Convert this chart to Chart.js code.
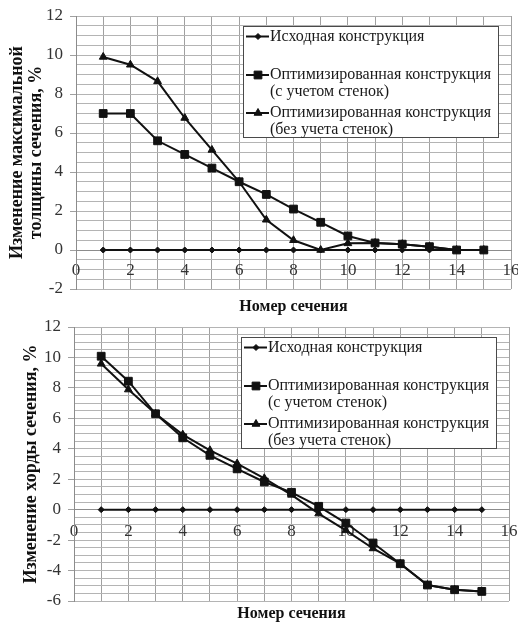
<!DOCTYPE html>
<html>
<head>
<meta charset="utf-8">
<script src="https://cdn.jsdelivr.net/npm/chart.js@4.4.1/dist/chart.umd.min.js"></script>
<style>
  body { margin: 0; background: #fff; }
  #wrap { position: relative; width: 518px; height: 626px; }
  #thickChart { position: absolute; left: 0; top: 0; }
  #chordChart { position: absolute; left: 0; top: 310px; }
</style>
</head>
<body>
<div id="wrap">
  <canvas id="thickChart" width="518" height="320"></canvas>
  <canvas id="chordChart" width="518" height="316"></canvas>
</div>
<script>
// номера сечений
const sections = [1, 2, 3, 4, 5, 6, 7, 8, 9, 10, 11, 12, 13, 14, 15];

// изменение максимальной толщины, %
const thickBase    = [0, 0, 0, 0, 0, 0, 0, 0, 0, 0, 0, 0, 0, 0, 0];
const thickWalls   = [7.0, 7.0, 5.6, 4.9, 4.2, 3.5, 2.85, 2.1, 1.42, 0.72, 0.36, 0.3, 0.17, 0, 0];
const thickNoWalls = [9.9, 9.5, 8.65, 6.77, 5.13, 3.5, 1.55, 0.5, 0.0, 0.34, 0.36, 0.3, 0.17, 0, 0];

// изменение хорды, %
const chordBase    = [0, 0, 0, 0, 0, 0, 0, 0, 0, 0, 0, 0, 0, 0, 0];
const chordWalls   = [10.08, 8.44, 6.3, 4.72, 3.57, 2.68, 1.82, 1.14, 0.22, -0.88, -2.19, -3.55, -4.95, -5.26, -5.37];
const chordNoWalls = [9.58, 7.89, 6.3, 4.93, 3.9, 3.03, 2.06, 0.97, -0.26, -1.36, -2.55, -3.55, -4.95, -5.26, -5.37];

const seriesNames = ['Исходная конструкция', 'Оптимизированная конструкция (с учетом стенок)', 'Оптимизированная конструкция (без учета стенок)'];
const legendLines = [
  ['Исходная конструкция'],
  ['Оптимизированная конструкция', '(с учетом стенок)'],
  ['Оптимизированная конструкция', '(без учета стенок)']
];
const xTitle = 'Номер сечения';

const FONT = '"Liberation Serif", "Times New Roman", serif';
const markers = [
  { pointStyle: 'rectRot', radius: 3 },
  { pointStyle: 'rect', radius: 5.5 },
  { pointStyle: 'triangle', radius: 4.5 }
];

function toPoints(values) {
  return values.map((v, i) => ({ x: sections[i], y: v }));
}

// легенда в рамке, как в Excel
const boxLegend = {
  id: 'boxLegend',
  afterDraw(chart, args, opts) {
    const ctx = chart.ctx;
    const area = chart.chartArea;
    const left = Math.round(area.right - opts.right - opts.width);
    const top = Math.round(area.top + opts.top);
    ctx.save();
    ctx.fillStyle = '#fff';
    ctx.fillRect(left, top, opts.width, opts.height);
    ctx.strokeStyle = '#4a4a4a';
    ctx.lineWidth = 1;
    ctx.strokeRect(left + 0.5, top + 0.5, opts.width, opts.height);

    ctx.font = '16px ' + FONT;
    ctx.textBaseline = 'middle';
    legendLines.forEach((lines, i) => {
      const y = top + opts.rows[i];
      ctx.strokeStyle = '#111';
      ctx.fillStyle = '#111';
      ctx.lineWidth = 2;
      ctx.beginPath();
      ctx.moveTo(left + 3, y);
      ctx.lineTo(left + 26, y);
      ctx.stroke();
      ctx.lineWidth = 1;
      Chart.helpers.drawPoint(ctx, {
        pointStyle: markers[i].pointStyle,
        radius: markers[i].radius,
        rotation: 0,
        borderWidth: 1
      }, left + 15, y);
      ctx.fillStyle = '#1a1a1a';
      lines.forEach((t, k) => ctx.fillText(t, left + 27, y + k * 17));
    });
    ctx.restore();
  }
};

function makeChart(id, c) {
  const ctx = document.getElementById(id).getContext('2d');
  const values = [c.base, c.walls, c.noWalls];
  const datasets = values.map((vals, i) => ({
    label: seriesNames[i],
    data: toPoints(vals),
    xAxisID: 'x',
    yAxisID: 'y',
    borderColor: '#111',
    backgroundColor: '#111',
    borderWidth: 2,
    pointStyle: markers[i].pointStyle,
    pointRadius: markers[i].radius,
    pointBorderWidth: 1,
    tension: 0,
    order: [2, 0, 1][i]
  }));

  return new Chart(ctx, {
    type: 'line',
    data: { datasets: datasets },
    plugins: [boxLegend],
    options: {
      responsive: false,
      animation: false,
      devicePixelRatio: 1,
      events: [],
      layout: { padding: { left: 0, right: c.padRight, top: c.padTop, bottom: 0 } },
      plugins: {
        legend: { display: false },
        tooltip: { enabled: false },
        boxLegend: { width: 255, height: 111, right: 13, top: 9.5, rows: [10.5, 49, 87] }
      },
      scales: {
        x: {
          type: 'linear',
          min: 0,
          max: 16,
          position: { y: 0 },
          ticks: {
            stepSize: 1,
            autoSkip: false,
            maxRotation: 0,
            padding: c.xTickPad,
            color: '#333',
            font: { family: FONT, size: 17 },
            callback: v => (v % 2 === 0 ? v : '')
          },
          grid: { color: '#a0a0a0', drawTicks: false },
          border: { color: '#8c8c8c' },
          afterFit: s => { s.paddingLeft = 0; s.paddingRight = 0; }
        },
        x2: {
          type: 'linear',
          min: 0,
          max: 16,
          position: 'bottom',
          ticks: { display: false },
          grid: { display: false, drawTicks: false },
          border: { display: false },
          title: {
            display: true,
            text: xTitle,
            color: '#111',
            font: { family: FONT, size: 16, weight: 'bold' },
            padding: { top: 0, bottom: c.x2PadBottom }
          },
          afterFit: s => { s.height = c.x2Height; }
        },
        y: {
          type: 'linear',
          min: c.yMin,
          max: c.yMax,
          position: 'left',
          ticks: {
            stepSize: 0.5,
            autoSkip: false,
            padding: 7,
            color: '#333',
            font: { family: FONT, size: 17 },
            callback: v => (v % 2 === 0 ? v : '')
          },
          grid: {
            color: '#b4b4b4',
            tickLength: 6,
            tickColor: t => (t.tick && t.tick.value % 2 === 0 ? '#a0a0a0' : 'rgba(0,0,0,0)')
          },
          border: { color: '#8c8c8c' },
          title: {
            display: true,
            text: c.yTitle,
            color: '#111',
            font: { family: FONT, size: 18, weight: 'bold', lineHeight: 1.08 },
            padding: { top: c.yTitlePad, bottom: 0 }
          },
          afterFit: s => { s.width = c.axisWidth; s.paddingTop = 0; s.paddingBottom = 0; }
        }
      }
    }
  });
}

makeChart('thickChart', {
  base: thickBase, walls: thickWalls, noWalls: thickNoWalls,
  yMin: -2, yMax: 12,
  yTitle: ['Изменение максимальной', 'толщины сечения, %'],
  yTitlePad: 7.5,
  axisWidth: 76, padRight: 7, padTop: 16,
  x2Height: 31, x2PadBottom: 3.4, xTickPad: 10
});

makeChart('chordChart', {
  base: chordBase, walls: chordWalls, noWalls: chordNoWalls,
  yMin: -6, yMax: 12,
  yTitle: 'Изменение хорды сечения, %',
  yTitlePad: 21.5,
  axisWidth: 74, padRight: 9, padTop: 17,
  x2Height: 25, x2PadBottom: 2.4, xTickPad: 12
});
</script>
</body>
</html>
